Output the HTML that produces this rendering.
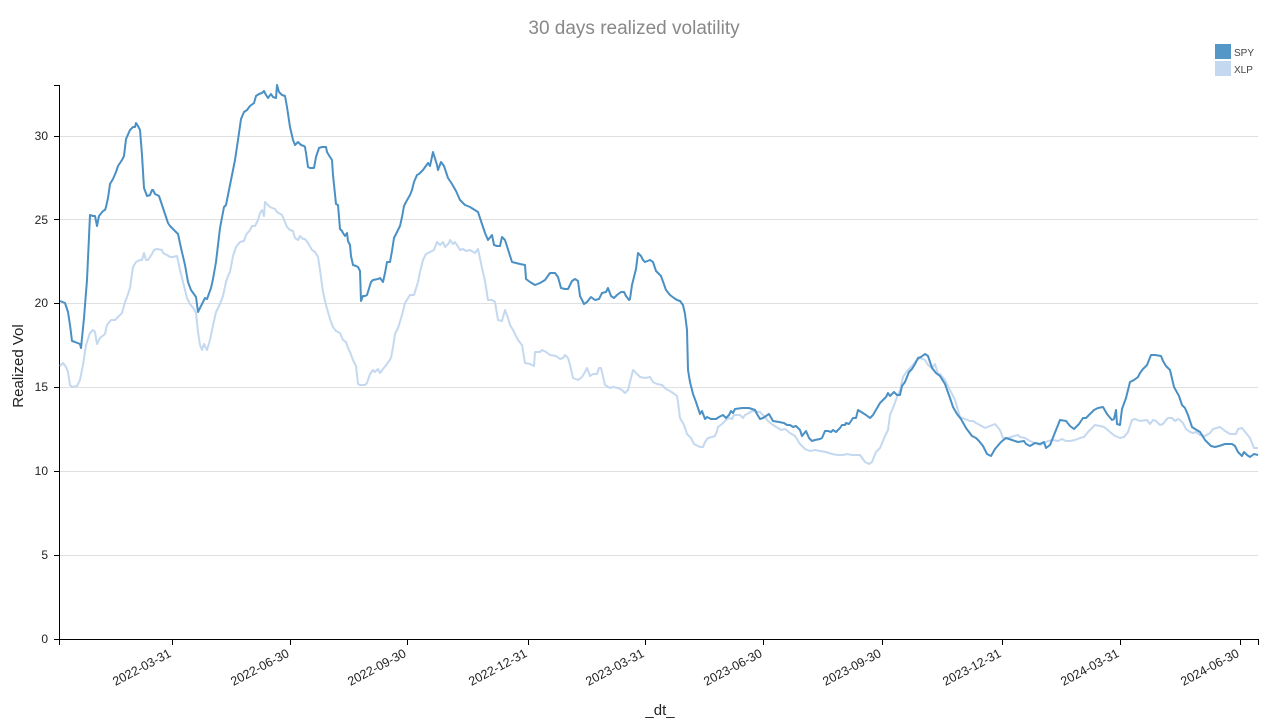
<!DOCTYPE html>
<html><head><meta charset="utf-8"><style>
body{margin:0;background:#fff;}
svg{display:block;font-family:"Liberation Sans",Arial,sans-serif;}
</style></head><body>
<svg width="1276" height="721" viewBox="0 0 1276 721">
<text x="634" y="34" text-anchor="middle" font-size="19" fill="#888">30 days realized volatility</text>
<g stroke="#e0e0e0" stroke-width="1">
<line x1="60" x2="1258" y1="555.5" y2="555.5"/>
<line x1="60" x2="1258" y1="471.5" y2="471.5"/>
<line x1="60" x2="1258" y1="387.5" y2="387.5"/>
<line x1="60" x2="1258" y1="303.5" y2="303.5"/>
<line x1="60" x2="1258" y1="219.5" y2="219.5"/>
<line x1="60" x2="1258" y1="136.5" y2="136.5"/>
</g>
<g stroke="#000" stroke-width="1" fill="none">
<path d="M54,85.5H59.5V639.5H54"/>
<line x1="54" x2="60" y1="555.5" y2="555.5"/>
<line x1="54" x2="60" y1="471.5" y2="471.5"/>
<line x1="54" x2="60" y1="387.5" y2="387.5"/>
<line x1="54" x2="60" y1="303.5" y2="303.5"/>
<line x1="54" x2="60" y1="219.5" y2="219.5"/>
<line x1="54" x2="60" y1="136.5" y2="136.5"/>
<path d="M59.5,645V639.5H1258.5V645"/>
<path d="M172.5,639v6M290.5,639v6M407.5,639v6M528.5,639v6M645.5,639v6M763.5,639v6M882.5,639v6M1002.5,639v6M1120.5,639v6M1240.5,639v6"/>
</g>
<g font-size="12" fill="#222" text-anchor="end">
<text x="48" y="643">0</text><text x="48" y="559">5</text><text x="48" y="475">10</text>
<text x="48" y="391">15</text><text x="48" y="307">20</text><text x="48" y="224">25</text><text x="48" y="140">30</text>
</g>
<g font-size="12.5" fill="#222" text-anchor="end">
<text transform="translate(172,656) rotate(-28)">2022-03-31</text>
<text transform="translate(290,656) rotate(-28)">2022-06-30</text>
<text transform="translate(407,656) rotate(-28)">2022-09-30</text>
<text transform="translate(528,656) rotate(-28)">2022-12-31</text>
<text transform="translate(645,656) rotate(-28)">2023-03-31</text>
<text transform="translate(763,656) rotate(-28)">2023-06-30</text>
<text transform="translate(882,656) rotate(-28)">2023-09-30</text>
<text transform="translate(1002,656) rotate(-28)">2023-12-31</text>
<text transform="translate(1120,656) rotate(-28)">2024-03-31</text>
<text transform="translate(1240,656) rotate(-28)">2024-06-30</text>
</g>
<text x="660" y="715" text-anchor="middle" font-size="15" fill="#222">_dt_</text>
<text transform="translate(23,366) rotate(-90)" text-anchor="middle" font-size="15" fill="#222">Realized Vol</text>
<rect x="1215" y="44" width="16" height="15" fill="#5598c8"/>
<rect x="1215" y="61" width="16" height="15" fill="#c4d8f0"/>
<text x="1234" y="56" font-size="10" fill="#444">SPY</text>
<text x="1234" y="73" font-size="10" fill="#444">XLP</text>
<polyline fill="none" stroke="#c4d8f0" stroke-width="2" stroke-linejoin="round" points="60,366 63,363 66,367 68,372 70,385 72,387 77,386 80,380 83,365 86,345 90,333 93,330 95,332 97,344 100,338 105,334 107,325 111,320 115,320 122,313 125,302 127,297 130,288 133,267 136,262 140,260 142,260 144,253 146,260 148,260 152,254 154,250 157,249 162,250 163,253 167,255 170,257 173,257 177,256 180,270 183,282 187,298 190,304 194,309 196,313 198,332 200,345 202,350 204,344 207,350 210,340 212,330 216,312 220,304 223,296 226,282 228,276 230,272 233,256 236,247 240,242 244,241 246,235 250,230 252,226 255,226 258,220 260,213 262,210 264,216 265,202 267,204 270,207 275,209 277,212 282,215 285,222 287,227 290,230 293,231 295,238 298,240 300,236 303,239 305,239 308,243 312,250 315,252 318,257 320,270 323,292 326,305 330,319 333,327 336,331 340,333 343,340 346,342 348,348 350,352 353,360 356,366 358,384 360,385 365,385 367,383 370,374 373,370 375,372 378,369 380,373 383,369 387,364 391,358 393,347 395,334 398,328 402,315 405,303 410,295 414,295 418,282 420,272 423,260 426,254 430,252 434,250 437,242 440,245 443,242 445,247 449,243 450,240 453,244 455,242 457,245 460,250 463,249 466,251 470,250 475,253 478,249 482,268 485,281 488,300 492,300 495,302 498,320 502,321 505,310 508,318 510,325 513,330 518,340 522,345 525,363 530,364 534,366 535,352 540,352 542,350 546,352 550,355 556,356 560,359 563,358 565,355 568,358 570,365 573,378 578,380 582,377 585,372 587,368 590,376 593,374 597,374 599,368 601,368 605,385 610,388 613,387 618,388 622,390 625,393 628,390 633,370 637,374 640,377 645,378 650,377 653,382 657,384 662,385 666,389 670,391 673,393 677,396 678,402 680,418 684,425 687,434 691,438 694,444 700,447 703,447 705,442 708,438 712,437 715,436 717,431 718,427 722,424 726,420 729,418 732,419 734,415 740,415 743,418 745,415 749,413 752,411 760,412 764,416 768,421 773,425 778,428 781,430 785,429 790,433 795,436 800,444 805,449 810,451 815,450 820,451 826,452 832,454 838,455 843,455 847,454 852,455 860,455 865,462 869,464 872,462 876,452 880,448 885,436 888,430 890,415 893,408 897,397 900,390 903,377 907,371 912,366 916,361 920,358 925,360 928,365 932,368 935,364 938,374 940,374 945,380 950,390 955,400 960,417 965,419 970,421 973,421 976,423 980,425 985,428 990,426 995,424 1000,430 1003,438 1008,438 1014,436 1018,435 1020,437 1025,438 1030,441 1035,443 1040,445 1044,443 1048,441 1053,440 1058,441 1062,439 1066,441 1070,441 1075,440 1080,438 1084,437 1088,432 1095,425 1100,426 1104,427 1110,432 1115,436 1120,438 1124,437 1128,432 1132,420 1135,419 1140,421 1147,420 1150,424 1153,420 1156,421 1160,425 1163,424 1166,420 1168,418 1172,418 1175,421 1178,419 1180,420 1183,423 1186,429 1190,432 1193,433 1196,432 1200,435 1205,436 1210,433 1213,429 1220,427 1225,431 1230,434 1236,434 1238,429 1242,428 1246,433 1250,438 1254,448 1258,448"/>
<polyline fill="none" stroke="#4a90c4" stroke-width="2" stroke-linejoin="round" points="60,301 65,303 68,312 70,325 72,341 75,342 80,344 81,348 84,318 87,280 90,215 93,216 95,216 97,226 99,216 103,211 105,210 106,207 108,198 110,184 113,179 116,172 118,166 122,160 124,156 126,139 130,130 133,127 135,127 136,123 138,126 140,130 142,155 144,188 147,196 150,195 152,190 153,190 155,194 159,196 162,205 165,214 168,223 170,226 178,234 181,248 185,265 188,282 191,290 196,297 198,312 200,308 205,298 207,299 211,288 213,279 216,262 220,228 224,207 226,205 232,175 235,160 238,140 241,119 244,112 247,110 250,106 254,103 256,96 259,94 262,93 264,91 266,95 268,98 271,94 273,97 276,98 277,85 279,92 282,95 285,96 287,107 290,127 293,140 295,145 298,142 301,145 304,146 305,147 306,153 308,167 310,168 314,168 316,157 319,148 322,147 326,147 327,152 330,157 332,160 333,175 336,204 338,205 340,229 342,231 343,233 345,236 347,233 348,241 350,245 351,256 353,265 356,266 358,267 360,271 361,301 363,296 365,296 367,295 371,282 373,280 378,279 380,278 383,282 385,273 387,262 390,262 392,251 394,238 396,234 398,230 400,226 402,217 404,206 406,202 410,195 412,190 414,182 417,175 419,174 423,170 428,163 430,166 433,152 437,165 438,170 441,162 444,166 448,178 452,184 456,191 460,200 465,205 470,207 478,212 485,233 488,240 492,235 494,245 497,246 500,246 502,237 505,240 512,262 520,264 525,265 526,279 530,282 535,285 540,283 545,280 550,273 555,273 558,277 561,288 565,289 568,289 572,281 575,279 578,281 580,296 584,304 587,302 591,297 595,300 599,299 602,293 606,292 608,288 611,296 614,298 617,295 621,292 624,292 626,296 629,300 630,299 632,285 636,269 638,253 641,256 643,260 645,262 650,260 653,262 656,271 661,276 666,290 670,295 674,298 677,300 680,301 683,305 685,314 687,330 688,370 690,382 693,394 696,402 698,408 700,414 702,411 705,419 707,417 711,419 716,419 719,417 723,415 726,418 729,415 731,411 733,413 735,409 742,408 749,408 755,410 757,414 760,419 763,418 766,416 769,414 773,421 779,422 784,423 787,425 790,425 793,427 796,426 800,430 802,436 806,431 809,438 812,441 815,440 820,439 822,438 825,431 828,431 831,432 833,430 836,432 840,428 842,425 845,425 846,423 849,424 853,418 856,418 858,410 866,415 870,418 873,415 880,403 886,397 888,393 890,396 894,392 897,395 900,395 902,386 905,382 909,372 912,369 915,364 918,358 921,357 925,354 928,356 932,368 936,373 940,376 945,384 950,398 953,407 957,414 961,419 966,428 972,436 976,438 979,441 983,446 987,454 991,456 995,449 1001,442 1006,438 1012,440 1018,442 1024,441 1026,444 1030,446 1035,443 1040,444 1044,442 1046,448 1050,445 1056,430 1060,420 1066,421 1070,426 1074,429 1079,424 1083,418 1086,418 1090,414 1094,410 1098,408 1103,407 1107,414 1112,420 1114,419 1116,410 1117,424 1120,425 1122,409 1126,398 1130,382 1134,380 1138,377 1140,373 1143,369 1147,365 1151,355 1155,355 1161,356 1163,361 1166,366 1170,370 1174,387 1179,396 1182,405 1185,408 1188,415 1192,427 1195,429 1200,432 1205,440 1211,446 1215,447 1219,446 1225,444 1232,444 1235,446 1238,452 1242,456 1244,452 1247,455 1250,457 1254,454 1258,455"/>
</svg>
</body></html>
